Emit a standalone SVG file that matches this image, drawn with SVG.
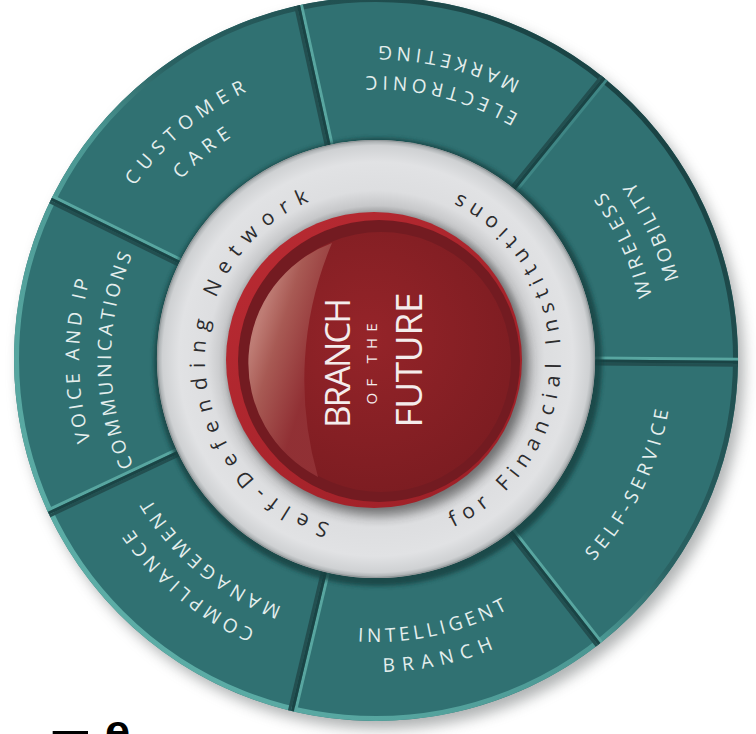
<svg xmlns="http://www.w3.org/2000/svg" width="756" height="734" viewBox="0 0 756 734">
  <defs>
    <style>
      .tile { fill: #307172; }
      .lbl { font-family: "Open Sans", "DejaVu Sans", sans-serif; font-size: 19px; fill: #e4eeed; }
      .ring-txt { font-family: "Open Sans", "DejaVu Sans", sans-serif; font-size: 21px; fill: #2c2c2e; }
      .hub-txt { font-family: "Open Sans", "DejaVu Sans", sans-serif; fill: #f4ecec; }
      .gap { stroke: #1a4445; stroke-width: 3; }
      .lit { stroke: #58a6a0; stroke-width: 3; }
      .mid { stroke: #3f8685; stroke-width: 3; }
      .shade { stroke: #234f50; stroke-width: 3; }
      .frag { font-family: "Liberation Sans", Arial, sans-serif; font-weight: bold; fill: #000; }
    </style>

    <filter id="soft" x="-20%" y="-20%" width="140%" height="140%">
      <feGaussianBlur stdDeviation="7"/>
    </filter>
    <filter id="soft5" x="-20%" y="-20%" width="140%" height="140%">
      <feGaussianBlur stdDeviation="5"/>
    </filter>
    <filter id="soft2" x="-10%" y="-10%" width="120%" height="120%">
      <feGaussianBlur stdDeviation="2"/>
    </filter>

    <!-- outer rim: lit from the lower left -->
    <linearGradient id="rimOut" gradientUnits="userSpaceOnUse" x1="120" y1="615" x2="632" y2="103">
      <stop offset="0" stop-color="#5cada6"/>
      <stop offset="0.45" stop-color="#4a9692"/>
      <stop offset="0.58" stop-color="#2a6263"/>
      <stop offset="1" stop-color="#1a4344"/>
    </linearGradient>

    <radialGradient id="greyRing" gradientUnits="userSpaceOnUse" cx="376" cy="359" r="219">
      <stop offset="0.66" stop-color="#9c9d9f"/>
      <stop offset="0.70" stop-color="#c6c7c9"/>
      <stop offset="0.77" stop-color="#dddee0"/>
      <stop offset="0.9" stop-color="#e1e2e4"/>
      <stop offset="0.975" stop-color="#cfd1d3"/>
      <stop offset="1" stop-color="#9fa5a7"/>
    </radialGradient>

    <linearGradient id="redRim" x1="0" y1="0" x2="1" y2="1">
      <stop offset="0" stop-color="#bb2b33"/>
      <stop offset="1" stop-color="#9a1f26"/>
    </linearGradient>
    <radialGradient id="redCore" cx="0.45" cy="0.4" r="0.65">
      <stop offset="0" stop-color="#952429"/>
      <stop offset="1" stop-color="#7b1c21"/>
    </radialGradient>
    <linearGradient id="gloss" gradientUnits="userSpaceOnUse" x1="250" y1="350" x2="312" y2="370">
      <stop offset="0" stop-color="#c4857c"/>
      <stop offset="0.35" stop-color="#ab5f58"/>
      <stop offset="1" stop-color="#923236"/>
    </linearGradient>

    <!-- text baselines, centred on 3 o'clock and turned into place per label -->
    <path id="cw297" d="M477.58,79.91 A297,297 0 0 1 477.58,638.09"/>
    <path id="cw265" d="M466.64,109.98 A265,265 0 0 1 466.64,608.02"/>
    <path id="ccw283" d="M472.79,624.93 A283,283 0 0 0 472.79,93.07"/>
    <path id="ccw313" d="M483.05,653.12 A313,313 0 0 0 483.05,64.88"/>
    <path id="ccw297" d="M477.58,638.09 A297,297 0 0 0 477.58,79.91"/>
    <path id="cw171" d="M405.69,190.60 A171,171 0 0 1 405.69,527.40"/>
    <path id="ccw185" d="M408.13,541.19 A185,185 0 0 0 408.13,176.81"/>
  </defs>

  <rect width="756" height="734" fill="#ffffff"/>

  <!-- soft drop shadow under the wheel -->
  <circle cx="382" cy="367" r="362" fill="#6e7374" opacity="0.55" filter="url(#soft)"/>

  <!-- outer ring tiles -->
  <g id="self-service">
    <path class="tile" d="M737.98,362.16 A362,362 0 0 1 599.22,643.99 L511.04,531.41 A219,219 0 0 0 594.99,360.91 Z"/>
    <g transform="rotate(26 376 359)">
      <text class="lbl" style="letter-spacing:4.7px" text-anchor="middle"><textPath href="#ccw297" startOffset="50%">SELF-SERVICE</textPath></text>
    </g>
  </g>
  <g id="intelligent-branch">
    <path class="tile" d="M599.22,643.99 A362,362 0 0 1 292.35,711.20 L325.39,572.07 A219,219 0 0 0 511.04,531.41 Z"/>
    <g transform="rotate(77.6 376 359)">
      <text class="lbl" style="letter-spacing:4px" text-anchor="middle"><textPath href="#ccw283" startOffset="50%">INTELLIGENT</textPath></text>
      <text class="lbl" style="letter-spacing:7.5px" text-anchor="middle"><textPath href="#ccw313" startOffset="50%">BRANCH</textPath></text>
    </g>
  </g>
  <g id="compliance-management">
    <path class="tile" d="M292.35,711.20 A362,362 0 0 1 48.48,513.19 L177.86,452.28 A219,219 0 0 0 325.39,572.07 Z"/>
    <g transform="rotate(130 376 359)">
      <text class="lbl" style="letter-spacing:4.6px" text-anchor="middle"><textPath href="#cw297" startOffset="50%">COMPLIANCE</textPath></text>
      <text class="lbl" style="letter-spacing:4.5px" text-anchor="middle"><textPath href="#cw265" startOffset="50%">MANAGEMENT</textPath></text>
    </g>
  </g>
  <g id="voice-ip">
    <path class="tile" d="M48.48,513.19 A362,362 0 0 1 51.22,199.12 L179.52,262.28 A219,219 0 0 0 177.86,452.28 Z"/>
    <g transform="rotate(180 376 359)">
      <text class="lbl" style="letter-spacing:3.8px" text-anchor="middle"><textPath href="#cw297" startOffset="50%">VOICE AND IP</textPath></text>
      <text class="lbl" style="letter-spacing:3.3px" text-anchor="middle"><textPath href="#cw265" startOffset="50%">COMMUNICATIONS</textPath></text>
    </g>
  </g>
  <g id="customer-care">
    <path class="tile" d="M51.22,199.12 A362,362 0 0 1 298.51,5.39 L329.12,145.08 A219,219 0 0 0 179.52,262.28 Z"/>
    <g transform="rotate(230.5 376 359)">
      <text class="lbl" style="letter-spacing:6.8px" text-anchor="middle"><textPath href="#cw297" startOffset="50%">CUSTOMER</textPath></text>
      <text class="lbl" style="letter-spacing:6.7px" text-anchor="middle"><textPath href="#cw265" startOffset="50%">CARE</textPath></text>
    </g>
  </g>
  <g id="electronic-marketing">
    <path class="tile" d="M298.51,5.39 A362,362 0 0 1 604.16,77.95 L514.03,188.97 A219,219 0 0 0 329.12,145.08 Z"/>
    <g transform="rotate(283.5 376 359)">
      <text class="lbl" style="letter-spacing:5.4px" text-anchor="middle"><textPath href="#ccw283" startOffset="50%">ELECTRONIC</textPath></text>
      <text class="lbl" style="letter-spacing:5.1px" text-anchor="middle"><textPath href="#ccw313" startOffset="50%">MARKETING</textPath></text>
    </g>
  </g>
  <g id="wireless-mobility">
    <path class="tile" d="M604.16,77.95 A362,362 0 0 1 737.98,362.16 L594.99,360.91 A219,219 0 0 0 514.03,188.97 Z"/>
    <g transform="rotate(335 376 359)">
      <text class="lbl" style="letter-spacing:4.2px" text-anchor="middle"><textPath href="#ccw283" startOffset="50%">WIRELESS</textPath></text>
      <text class="lbl" style="letter-spacing:3.2px" text-anchor="middle"><textPath href="#ccw313" startOffset="50%">MOBILITY</textPath></text>
    </g>
  </g>

  <!-- bevelled outer rim -->
  <circle cx="376" cy="359" r="359.5" fill="none" stroke="url(#rimOut)" stroke-width="5"/>

  <!-- tile seams: dark groove with a lit edge on one side -->
  <g id="seams" fill="none">
    <g transform="rotate(0.5 376 359)">
      <line class="shade" x1="595" y1="362" x2="738" y2="362"/>
      <line class="lit" x1="595" y1="356" x2="738" y2="356"/>
      <line class="gap" x1="595" y1="359" x2="738" y2="359"/>
    </g>
    <g transform="rotate(51.93 376 359)">
      <line class="shade" x1="595" y1="362" x2="738" y2="362"/>
      <line class="lit" x1="595" y1="356" x2="738" y2="356"/>
      <line class="gap" x1="595" y1="359" x2="738" y2="359"/>
    </g>
    <g transform="rotate(103.36 376 359)">
      <line class="shade" x1="595" y1="362" x2="738" y2="362"/>
      <line class="lit" x1="595" y1="356" x2="738" y2="356"/>
      <line class="gap" x1="595" y1="359" x2="738" y2="359"/>
    </g>
    <g transform="rotate(154.79 376 359)">
      <line class="lit" x1="595" y1="362" x2="738" y2="362"/>
      <line class="shade" x1="595" y1="356" x2="738" y2="356"/>
      <line class="gap" x1="595" y1="359" x2="738" y2="359"/>
    </g>
    <g transform="rotate(206.21 376 359)">
      <line class="lit" x1="595" y1="362" x2="738" y2="362"/>
      <line class="shade" x1="595" y1="356" x2="738" y2="356"/>
      <line class="gap" x1="595" y1="359" x2="738" y2="359"/>
    </g>
    <g transform="rotate(257.64 376 359)">
      <line class="lit" x1="595" y1="362" x2="738" y2="362"/>
      <line class="shade" x1="595" y1="356" x2="738" y2="356"/>
      <line class="gap" x1="595" y1="359" x2="738" y2="359"/>
    </g>
    <g transform="rotate(309.07 376 359)">
      <line class="mid" x1="595" y1="362" x2="738" y2="362"/>
      <line class="shade" x1="595" y1="356" x2="738" y2="356"/>
      <line class="gap" x1="595" y1="359" x2="738" y2="359"/>
    </g>
  </g>

  <!-- shadow cast by the grey ring onto the tiles -->
  <circle cx="378" cy="362" r="224" fill="#173f40" opacity="0.8" filter="url(#soft2)"/>

  <!-- grey ring with its two captions -->
  <g id="network-ring">
    <circle cx="376" cy="359" r="219" fill="url(#greyRing)"/>
    <circle cx="376" cy="359" r="218.5" fill="none" stroke="#93999b" stroke-width="1.2"/>
    <circle cx="379" cy="366" r="150" fill="#3a3a3a" opacity="0.5" filter="url(#soft5)"/>
    <g transform="rotate(177.8 376 359)">
      <text class="ring-txt" style="letter-spacing:9px" text-anchor="middle"><textPath href="#cw171" startOffset="50%">Self-Defending Network</textPath></text>
    </g>
    <g transform="rotate(-0.2 376 359)">
      <text class="ring-txt" style="letter-spacing:7.2px" text-anchor="middle"><textPath href="#ccw185" startOffset="50%">for Financial Institutions</textPath></text>
    </g>
  </g>

  <!-- red hub -->
  <g id="branch-of-the-future">
    <circle cx="374" cy="360" r="148" fill="url(#redRim)"/>
    <circle cx="379" cy="361" r="141" fill="#731b21"/>
    <circle cx="381" cy="362" r="130" fill="url(#redCore)"/>
    <path d="M332,243 A128,128 0 0 0 318,477 A352,352 0 0 1 332,243 Z" fill="url(#gloss)" opacity="0.92"/>
    <text class="hub-txt" transform="translate(350,363) rotate(-90)" text-anchor="middle" font-size="35" textLength="130" lengthAdjust="spacing">BRANCH</text>
    <text class="hub-txt" transform="translate(377,361) rotate(-90)" text-anchor="middle" font-size="15" style="letter-spacing:6px">OF THE</text>
    <text class="hub-txt" transform="translate(422,360) rotate(-90)" text-anchor="middle" font-size="37" textLength="135" lengthAdjust="spacing">FUTURE</text>
  </g>

  <!-- caption cut off by the lower edge -->
  <text class="frag" x="52" y="772" font-size="60">T</text>
  <text class="frag" x="105" y="746" font-size="45">e</text>
</svg>
